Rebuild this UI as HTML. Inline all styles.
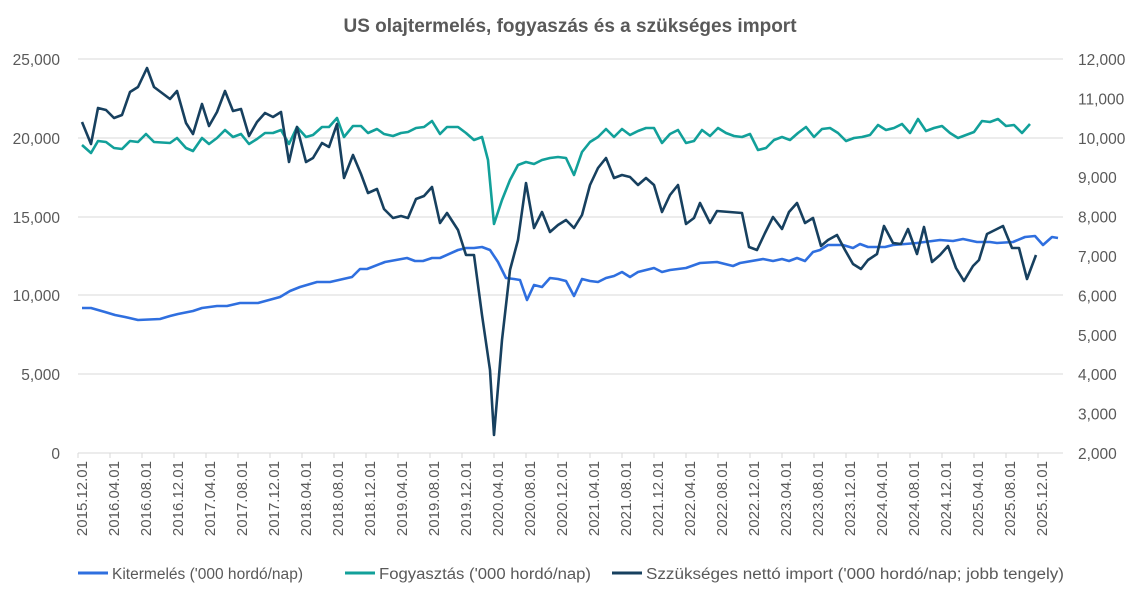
<!DOCTYPE html>
<html><head><meta charset="utf-8"><style>
body{margin:0;background:#fff;}
svg text{font-family:"Liberation Sans",sans-serif;fill:#595959;}
</style></head><body>
<svg id="c" width="1142" height="598" xmlns="http://www.w3.org/2000/svg">
<rect width="1142" height="598" fill="#fff"/>
<text x="570" y="32" text-anchor="middle" font-size="19" font-weight="bold">US olajtermelés, fogyaszás és a szükséges import</text>
<g stroke="#d9d9d9" stroke-width="1">
<line x1="78" x2="1063" y1="59" y2="59"/><line x1="78" x2="1063" y1="138" y2="138"/>
<line x1="78" x2="1063" y1="217" y2="217"/><line x1="78" x2="1063" y1="295" y2="295"/>
<line x1="78" x2="1063" y1="374" y2="374"/><line x1="78" x2="1063" y1="453" y2="453"/>
</g>
<g font-size="15.5" text-anchor="end">
<text x="60" y="65">25,000</text><text x="60" y="144">20,000</text><text x="60" y="223">15,000</text>
<text x="60" y="301">10,000</text><text x="60" y="380">5,000</text><text x="60" y="459">0</text>
</g>
<g font-size="15.5" text-anchor="start" id="ry"></g>
<g id="xt"></g>
<polyline fill="none" stroke="#2f6fdf" stroke-width="2.6" stroke-linejoin="round" points="82,308 91,308 105,312 115,315 125,317 138,320 160,319 170,316 178,314 193,311 202,308 217,306 227,306 240,303 258,303 280,297 290,291 300,287 317,282 330,282 352,277 360,269 367,269 385,262 407,258 415,261 423,261 432,258 440,258 458,250 466,248 474,248 482,247 490,250 498,262 506,278 514,279 520,280 527,300 534,285 542,287 550,278 558,279 566,281 574,296 582,279 590,281 598,282 606,278 614,276 622,272 630,277 638,272 646,270 654,268 662,272 670,270 678,269 686,268 700,263 717,262 733,266 740,263 763,259 773,261 782,259 789,261 797,258 805,261 813,252 820,250 828,245 843,245 853,248 860,244 868,247 885,247 893,245 917,243 940,240 953,241 963,239 977,242 990,242 997,243 1013,242 1025,237 1035,236 1043,245 1052,237 1058,238"/>
<polyline fill="none" stroke="#12a09a" stroke-width="2.6" stroke-linejoin="round" points="82,145 91,153 98,141 106,142 114,148 122,149 130,141 138,142 146,134 154,142 170,143 177,138 186,148 193,151 202,138 209,144 217,138 225,130 233,137 241,134 249,144 257,139 265,133 273,133 281,130 289,144 297,127 306,137 313,135 322,127 329,127 337,118 344,137 353,126 361,126 368,133 377,129 384,134 393,136 401,133 408,132 416,128 424,127 432,121 440,134 447,127 458,127 466,133 474,140 482,137 488,160 494,224 502,200 510,180 518,165 526,162 534,164 542,160 550,158 558,157 566,158 574,175 582,152 590,142 598,137 606,129 614,137 622,129 630,135 638,131 646,128 654,128 662,143 670,134 678,130 686,143 694,141 702,130 710,136 718,128 726,133 734,136 742,137 750,134 758,150 766,148 774,140 782,137 790,140 798,133 806,127 814,137 822,129 830,128 838,133 846,141 854,138 862,137 870,135 878,125 886,130 894,128 902,124 910,133 918,119 926,131 934,128 942,126 950,133 958,138 966,135 974,132 982,121 990,122 998,119 1006,126 1014,125 1022,133 1030,124"/>
<polyline fill="none" stroke="#17405f" stroke-width="2.6" stroke-linejoin="round" points="82,122 91,144 98,108 106,110 114,118 122,115 130,92 138,87 147,68 154,87 162,93 170,99 177,91 186,123 193,134 202,104 209,126 217,112 225,91 233,111 241,109 249,136 257,122 265,113 273,117 281,112 289,162 297,127 306,162 313,158 322,143 329,147 337,124 344,178 353,155 361,174 368,193 377,189 384,209 393,218 401,216 408,218 416,199 424,196 432,187 440,223 447,213 458,230 466,255 474,255 482,315 490,370 494,435 502,340 510,270 518,240 526,183 534,228 542,212 550,232 558,225 566,220 574,228 582,215 590,185 598,168 606,158 614,178 622,175 630,177 638,185 646,178 654,185 662,212 670,195 678,185 686,224 694,218 700,203 710,223 717,211 742,213 749,247 757,250 765,233 773,217 782,229 789,212 797,203 805,223 813,218 821,246 828,240 837,235 845,250 853,264 861,269 868,260 877,254 884,226 893,243 901,244 908,229 917,254 924,227 932,262 940,255 948,246 956,268 964,281 973,266 979,260 987,234 1003,226 1012,248 1019,248 1027,279 1036,255"/>
<g font-size="15.5">
<line x1="78" x2="108" y1="573" y2="573" stroke="#2f6fdf" stroke-width="3"/>
<text x="112" y="579" textLength="191" lengthAdjust="spacingAndGlyphs">Kitermelés ('000 hordó/nap)</text>
<line x1="345" x2="375" y1="573" y2="573" stroke="#12a09a" stroke-width="3"/>
<text x="379" y="579" textLength="212" lengthAdjust="spacingAndGlyphs">Fogyasztás ('000 hordó/nap)</text>
<line x1="612" x2="642" y1="573" y2="573" stroke="#17405f" stroke-width="3"/>
<text x="646" y="579" textLength="418" lengthAdjust="spacingAndGlyphs">Szzükséges nettó import ('000 hordó/nap; jobb tengely)</text>
</g>
</svg>
<script>
var ns="http://www.w3.org/2000/svg",s=document.getElementById('c');
var ry=document.getElementById('ry');
for(var v=2;v<=12;v++){var t=document.createElementNS(ns,'text');t.setAttribute('x',1078);t.setAttribute('y',453-(v-2)*39.4+6);t.textContent=(v<10?v:v.toString()[0]+v.toString()[1])+",000";ry.appendChild(t);}
var xt=document.getElementById('xt');
for(var i=0;i<=123;i+=4){var l=document.createElementNS(ns,'line');var x=78+8*i;l.setAttribute('x1',x);l.setAttribute('x2',x);l.setAttribute('y1',453);l.setAttribute('y2',458);l.setAttribute('stroke','#d9d9d9');xt.appendChild(l);}
for(var k=0;k<=30;k++){var m=11+4*k;var yr=2015+Math.floor(m/12);var mo=(m%12)+1;var lab=yr+"."+(mo<10?"0":"")+mo+".01";var x=82+32*k+5;var t=document.createElementNS(ns,'text');t.setAttribute('font-size','15');t.setAttribute('text-anchor','end');t.setAttribute('transform','translate('+x+',461) rotate(-90)');t.textContent=lab;xt.appendChild(t);}
</script>
</body></html>
